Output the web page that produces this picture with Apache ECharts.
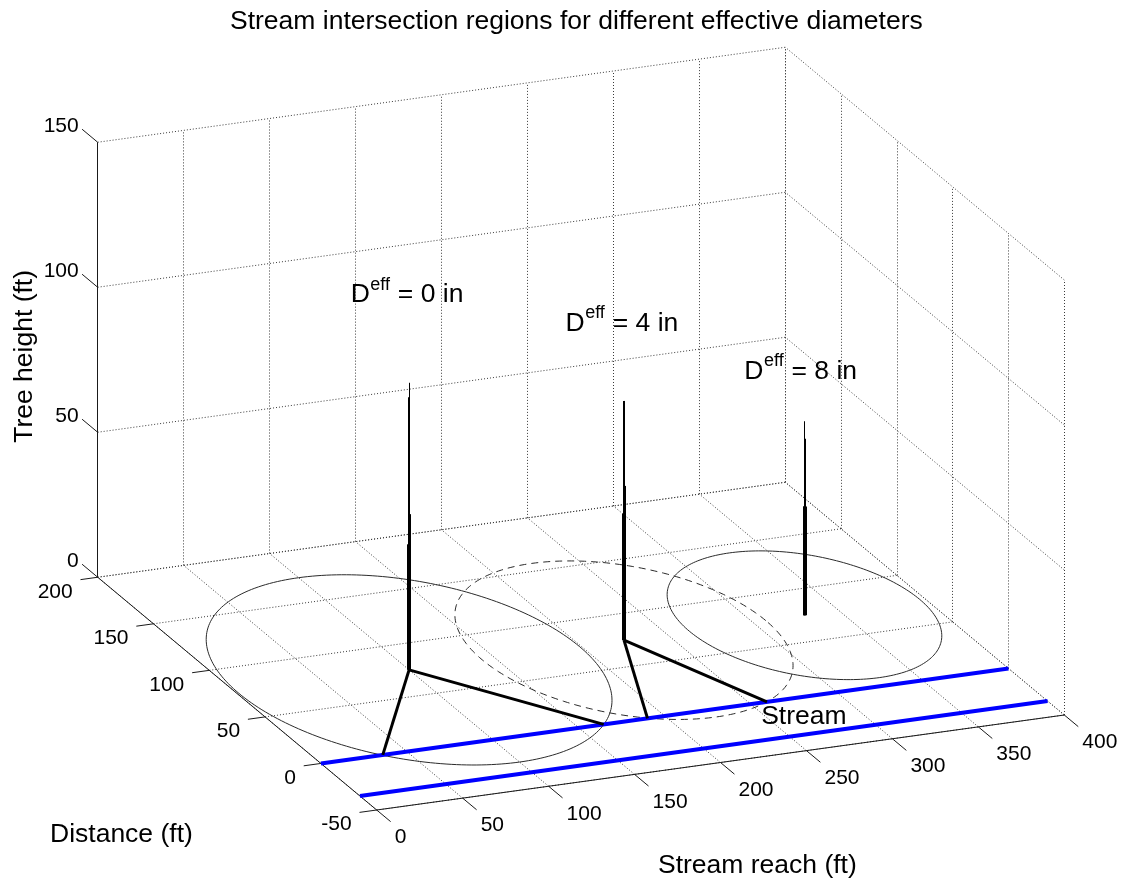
<!DOCTYPE html>
<html>
<head>
<meta charset="utf-8">
<script src="https://cdn.jsdelivr.net/npm/echarts@6/dist/echarts.min.js"></script>
<style>
html,body{margin:0;padding:0;background:#ffffff;}
#chart{width:1125px;height:886px;}
</style>
</head>
<body>
<div id="chart"></div>
<script>
// ---------------- data ----------------
const reachTicks    = [0, 50, 100, 150, 200, 250, 300, 350, 400];   // Stream reach (ft)
const distanceTicks = [-50, 0, 50, 100, 150, 200];                   // Distance (ft)
const heightTicks   = [0, 50, 100, 150];                             // Tree height (ft)

const treeReach    = [100, 225, 330];   // tree position along the stream (ft)
const treeDistance = [75, 75, 75];      // tree distance from the stream (ft)
const treeHeight   = [99, 82.5, 67];    // tree height = fall radius (ft)

// heights (ft) of the stacked trunk pieces, from thin (top) to thick (base)
const trunkLayer1 = [99, 82.5, 66.9];
const trunkLayer2 = [94, 82.5, 60.9];
const trunkLayer3 = [53.7, 53.2, 37.5];
const trunkLayer4 = [43.3, 43.6, 37.5];

// where the fall circles cut the near stream bank (distance 0)
const hitTree  = [0, 0, 1, 1];
const hitReach = [36, 164.5, 190, 259.5];

const deffValues    = [0, 4, 8];          // effective diameter (in)
const labelReach    = [66, 191, 295];
const labelDistance = [75, 75, 75];
const labelHeight   = [132, 112, 87];

const streamBanks   = [0, -35];           // stream bank lines (distance, ft)
const streamReach   = [0, 400];
const streamLabelAt = [248, -12.5, 0];

const reachRange    = [0, 400];
const distanceRange = [-50, 200];
const heightRange   = [0, 150];

// ---------------- view (orthographic camera of the 3-D box) ----------------
const FONT = '"Liberation Sans", Arial, Helvetica, sans-serif';
const VIEW = {
  origin: [376.7, 810],      // where (reach 0, distance -50, height 0) lands
  ref: [0, -50, 0],
  ex: [1.719, -0.2375],      // per ft of reach
  ey: [-1.116, -0.931],      // per ft of distance
  ez: [0, -2.9]              // per ft of height
};
function proj(x, y, z) {
  const dx = x - VIEW.ref[0], dy = y - VIEW.ref[1], dz = z - VIEW.ref[2];
  return [
    VIEW.origin[0] + VIEW.ex[0] * dx + VIEW.ey[0] * dy + VIEW.ez[0] * dz,
    VIEW.origin[1] + VIEW.ex[1] * dx + VIEW.ey[1] * dy + VIEW.ez[1] * dz
  ];
}
function seg(a, b) { return { coords: [proj(a[0], a[1], a[2]), proj(b[0], b[1], b[2])] }; }

const [R0, R1] = reachRange, [D0, D1] = distanceRange, [H0, H1] = heightRange;

// dotted grid on the floor, back wall and right wall
const gridSegs = [];
reachTicks.forEach(x => {
  gridSegs.push(seg([x, D0, H0], [x, D1, H0]));
  gridSegs.push(seg([x, D1, H0], [x, D1, H1]));
});
distanceTicks.forEach(y => {
  gridSegs.push(seg([R0, y, H0], [R1, y, H0]));
  gridSegs.push(seg([R1, y, H0], [R1, y, H1]));
});
heightTicks.forEach(z => {
  gridSegs.push(seg([R0, D1, z], [R1, D1, z]));
  gridSegs.push(seg([R1, D0, z], [R1, D1, z]));
});

// axis lines and tick marks
const axisSegs = [
  seg([R0, D0, H0], [R1, D0, H0]),
  seg([R0, D0, H0], [R0, D1, H0]),
  seg([R0, D1, H0], [R0, D1, H1])
];
reachTicks.forEach(x => axisSegs.push(seg([x, D0, H0], [x, D0 - 12.5, H0])));
distanceTicks.forEach(y => axisSegs.push(seg([R0, y, H0], [R0 - 10, y, H0])));
heightTicks.forEach(z => axisSegs.push(seg([R0, D1, z], [R0, D1 + 14, z])));

// stream banks
const streamSegs = streamBanks.map(y => seg([streamReach[0], y, 0], [streamReach[1], y, 0]));
// fall lines from tree bases to the stream
const branchSegs = hitTree.map((t, j) => seg([treeReach[t], treeDistance[t], 0], [hitReach[j], 0, 0]));
// trunk layers
function trunkSegs(layer) {
  return layer.map((h, i) => seg([treeReach[i], treeDistance[i], 0], [treeReach[i], treeDistance[i], h]));
}

// text measuring helper
const measureCtx = document.createElement('canvas').getContext('2d');
function textWidth(txt, size) { measureCtx.font = size + 'px ' + FONT; return measureCtx.measureText(txt).width; }

const TICK_FS = 21, LABEL_FS = 26.5, SUP_FS = 18;

function linesSeries(name, data, color, width, type, z) {
  return {
    name: name, type: 'lines', coordinateSystem: 'cartesian2d', polyline: false,
    silent: true, z: z, data: data,
    lineStyle: { color: color, width: width, type: type, opacity: 1, cap: 'butt' },
    effect: { show: false }
  };
}

function textSeries(name, items, z) {
  // items: {pos:[x,y,z], text, dx, dy, align, vAlign, size, rotation}
  return {
    name: name, type: 'custom', coordinateSystem: 'cartesian2d', silent: true, z: z,
    data: items.map(it => { const p = proj(it.pos[0], it.pos[1], it.pos[2]); return [p[0], p[1]]; }),
    renderItem: function (params, api) {
      const it = items[params.dataIndex];
      const c = api.coord([api.value(0), api.value(1)]);
      return {
        type: 'text', x: c[0] + (it.dx || 0), y: c[1] + (it.dy || 0), rotation: it.rotation || 0,
        style: { text: it.text, fill: '#000', font: it.size + 'px ' + FONT,
                 align: it.align || 'left', verticalAlign: it.vAlign || 'middle' }
      };
    }
  };
}

const tickTexts = [];
reachTicks.forEach(x => tickTexts.push({ pos: [x, D0, H0], text: String(x), dx: 18, dy: 27.5, align: 'left', size: TICK_FS }));
distanceTicks.forEach(y => tickTexts.push({ pos: [R0, y, H0], text: String(y), dx: -25, dy: 14.5, align: 'right', size: TICK_FS }));
heightTicks.forEach(z => tickTexts.push({ pos: [R0, D1, z], text: String(z), dx: -19, dy: -16, align: 'right', size: TICK_FS }));

const streamText = [{ pos: streamLabelAt, text: 'Stream', align: 'left', size: LABEL_FS }];

const option = {
  animation: false,
  backgroundColor: '#ffffff',
  title: {
    text: 'Stream intersection regions for different effective diameters',
    left: 225, top: 3,
    textStyle: { fontFamily: FONT, fontSize: LABEL_FS, fontWeight: 'normal', color: '#000' }
  },
  grid: { left: 0, right: 0, top: 0, bottom: 0, containLabel: false },
  xAxis: { type: 'value', min: 0, max: 1125, show: false },
  yAxis: { type: 'value', min: 0, max: 886, inverse: true, show: false },
  graphic: [
    { type: 'text', left: 50, top: 821, style: { text: 'Distance (ft)', font: LABEL_FS + 'px ' + FONT, fill: '#000' } },
    { type: 'text', left: 658, top: 852, style: { text: 'Stream reach (ft)', font: LABEL_FS + 'px ' + FONT, fill: '#000' } },
    { type: 'text', left: 11, top: 270, rotation: Math.PI / 2,
      style: { text: 'Tree height (ft)', font: LABEL_FS + 'px ' + FONT, fill: '#000' } }
  ],
  series: [
    linesSeries('grid', gridSegs, '#3a3a3a', 1, [1, 2], 1),
    linesSeries('axes', axisSegs, '#1a1a1a', 1, 'solid', 2),
    {
      name: 'fall circles', type: 'custom', coordinateSystem: 'cartesian2d', silent: true, z: 3,
      data: treeReach.map((x, i) => [x, treeDistance[i], treeHeight[i]]),
      renderItem: function (params, api) {
        const cx = api.value(0), cy = api.value(1), r = api.value(2);
        const pts = [];
        const N = 240;
        for (let k = 0; k <= N; k++) {
          const t = 2 * Math.PI * k / N;
          const p = proj(cx + r * Math.cos(t), cy + r * Math.sin(t), 0);
          pts.push(api.coord(p));
        }
        const dashed = params.dataIndex === 1;
        return { type: 'polyline', shape: { points: pts },
                 style: { stroke: '#2b2b2b', fill: null, lineWidth: 1, lineDash: dashed ? [7, 5] : null } };
      }
    },
    linesSeries('stream', streamSegs, '#0000ff', 4, 'solid', 4),
    linesSeries('fall lines', branchSegs, '#000000', 3, 'solid', 5),
    linesSeries('trunk 1', trunkSegs(trunkLayer1), '#000000', 1, 'solid', 6),
    linesSeries('trunk 2', trunkSegs(trunkLayer2), '#000000', 2, 'solid', 6),
    linesSeries('trunk 3', trunkSegs(trunkLayer3), '#000000', 3, 'solid', 6),
    linesSeries('trunk 4', trunkSegs(trunkLayer4), '#000000', 4, 'solid', 6),
    textSeries('tick labels', tickTexts, 7),
    textSeries('stream label', streamText, 7),
    {
      name: 'Deff labels', type: 'custom', coordinateSystem: 'cartesian2d', silent: true, z: 7,
      data: deffValues.map((d, i) => { const p = proj(labelReach[i], labelDistance[i], labelHeight[i]); return [p[0], p[1], d]; }),
      renderItem: function (params, api) {
        const c = api.coord([api.value(0), api.value(1)]);
        const wD = textWidth('D', LABEL_FS);
        const wSup = textWidth('eff', SUP_FS);
        const rest = ' = ' + api.value(2) + ' in';
        return {
          type: 'group', x: c[0], y: c[1],
          children: [
            { type: 'text', x: 0, y: 0, style: { text: 'D', font: LABEL_FS + 'px ' + FONT, fill: '#000', align: 'left', verticalAlign: 'middle' } },
            { type: 'text', x: wD + 0.5, y: -10, style: { text: 'eff', font: SUP_FS + 'px ' + FONT, fill: '#000', align: 'left', verticalAlign: 'middle' } },
            { type: 'text', x: wD + 1 + wSup, y: 0, style: { text: rest, font: LABEL_FS + 'px ' + FONT, fill: '#000', align: 'left', verticalAlign: 'middle' } }
          ]
        };
      }
    }
  ]
};

const chart = echarts.init(document.getElementById('chart'), null, { renderer: 'canvas' });
chart.setOption(option);
</script>
</body>
</html>
